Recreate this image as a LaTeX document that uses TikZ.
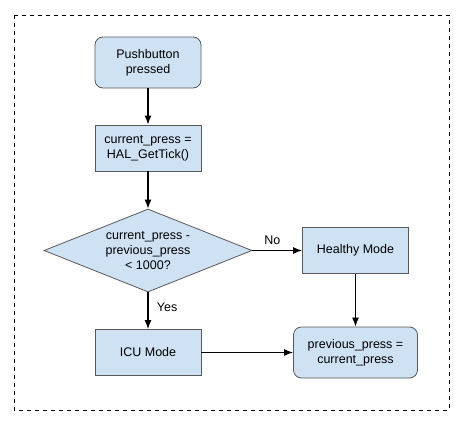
\documentclass[tikz,border=0pt]{standalone}
\usepackage{fontspec}
\setmainfont{Liberation Sans}
\usetikzlibrary{arrows.meta,positioning,shapes.geometric}
\definecolor{boxfill}{HTML}{CFE2F3}
\definecolor{boxline}{HTML}{595959}

\begin{document}
\begin{tikzpicture}[x=1pt,y=-1pt,->,>={Latex[length=9pt,width=7pt]},line width=1.2pt,
                    every node/.style={font=\fontsize{12.5}{15}\selectfont, align=center}]
  \tikzstyle{block}=[rectangle,draw=boxline,line width=0.8pt,fill=boxfill,
                     minimum width=106pt,minimum height=46pt,inner sep=0pt]
  \tikzstyle{term}=[block,rounded corners=8pt,minimum height=51pt]
  \tikzstyle{decision}=[diamond,draw=boxline,line width=0.8pt,fill=boxfill,
                        minimum width=208pt,minimum height=83pt,inner sep=0pt,aspect=2.5]

  \useasboundingbox (0,0) rectangle (463,423);
  \draw[-,dash pattern=on 4pt off 4pt,line width=0.9pt] (14,15) rectangle (449,410);

  \node[term] (push) at (148,62.5) {Pushbutton\\pressed};
  \node[block] (tick)     [below of=push, node distance=85.5pt] {current\_press =\\HAL\_GetTick()};
  \node[decision] (check) [below of=tick, node distance=102.5pt] {current\_press -\\previous\_press\\< 1000?};
  \node[block] (icu)      [below of=check, node distance=102pt] {ICU Mode};
  \node[block] (healthy)  [right of=check, node distance=207.5pt] {Healthy Mode};
  \node[term,minimum width=124pt] (prev) [below of=healthy, node distance=102pt] {previous\_press =\\current\_press};

  \draw (push) -- (tick);
  \draw (tick) -- (check);
  \draw (check) -- node[right=5pt,pos=0.4] {Yes} (icu);
  \draw (check) -- node[above=2pt,pos=0.4] {No} (healthy);
  \draw (healthy) -- (prev);
  \draw (icu) -- (prev);
\end{tikzpicture}
\end{document}
